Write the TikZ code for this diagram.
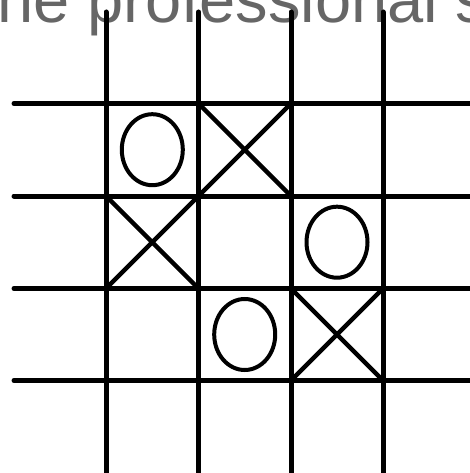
\documentclass[tikz,border=0pt]{standalone}
\usepackage{fontspec}
\setmainfont{Liberation Sans}
\definecolor{titlegray}{RGB}{102,102,102}
\begin{document}
\begin{tikzpicture}[x=1pt,y=-1pt,
  gridline/.style={line width=5pt,line cap=round},
  cross/.style={line width=4.5pt},
  ring/.style={line width=4pt}]
\useasboundingbox (0,0) rectangle (470,473);
\clip (0,0) rectangle (470,473);
\node[anchor=base west,inner sep=0pt,text=titlegray,font=\fontsize{65}{78}\selectfont] (title) at (-3,23) {ne professional s};
% grid
\foreach \x in {106,198.5,291,383} \draw[gridline] (\x,12) -- (\x,490);
\foreach \y in {103.5,196,288.5,380.5} \draw[gridline] (14,\y) -- (490,\y);
% crosses
\draw[cross] (198.5,103.5) -- (291,196) (291,103.5) -- (198.5,196);
\draw[cross] (106,196) -- (198.5,288.5) (198.5,196) -- (106,288.5);
\draw[cross] (291,288.5) -- (383,380.5) (383,288.5) -- (291,380.5);
% noughts
\draw[ring] (152.3,149.7) ellipse [x radius=30.5,y radius=35.5];
\draw[ring] (337,242.2) ellipse [x radius=30.5,y radius=35.5];
\draw[ring] (244.7,334.5) ellipse [x radius=30.5,y radius=35.5];
\end{tikzpicture}
\end{document}
